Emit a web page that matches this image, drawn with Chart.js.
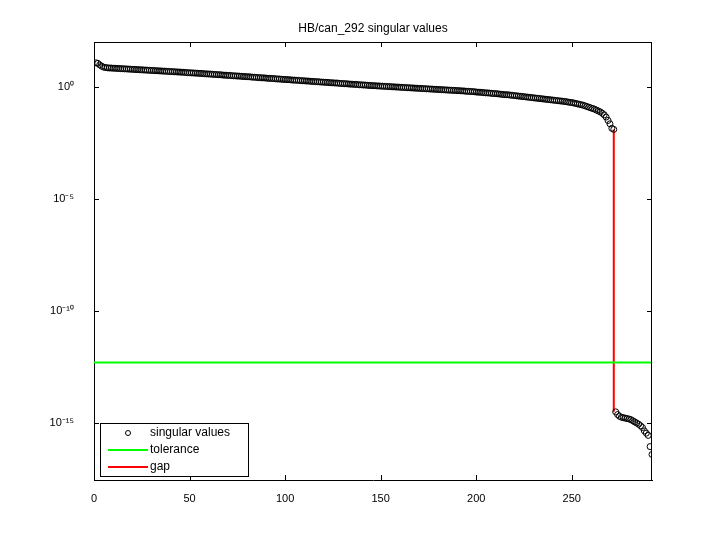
<!DOCTYPE html>
<html>
<head>
<meta charset="utf-8">
<script src="https://cdn.jsdelivr.net/npm/chart.js@4"></script>
<style>
  body { margin: 0; background: #fff; }
  #wrap { width: 720px; height: 540px; }
</style>
</head>
<body>
<div id="wrap"><canvas id="sv-chart" width="720" height="540"></canvas></div>
<script>
// log10 of each singular value (index 1..292)
const svExponents = [
  1.07,1.05,0.98,0.92,0.88,0.86,0.85,0.84,0.84,0.83,
  0.83,0.82,0.82,0.81,0.81,0.80,0.80,0.79,0.79,0.78,
  0.78,0.77,0.77,0.76,0.76,0.75,0.75,0.74,0.74,0.73,
  0.73,0.72,0.72,0.71,0.71,0.70,0.70,0.69,0.69,0.68,
  0.68,0.67,0.67,0.66,0.66,0.65,0.65,0.64,0.63,0.63,
  0.62,0.62,0.61,0.61,0.60,0.60,0.59,0.58,0.58,0.57,
  0.57,0.56,0.55,0.55,0.54,0.54,0.53,0.52,0.52,0.51,
  0.51,0.50,0.49,0.49,0.48,0.48,0.47,0.46,0.46,0.45,
  0.45,0.44,0.43,0.43,0.42,0.41,0.41,0.40,0.40,0.39,
  0.38,0.38,0.37,0.37,0.36,0.35,0.35,0.34,0.33,0.33,
  0.32,0.32,0.31,0.30,0.30,0.29,0.29,0.28,0.27,0.27,
  0.26,0.26,0.25,0.24,0.24,0.23,0.23,0.22,0.21,0.21,
  0.20,0.20,0.19,0.18,0.18,0.17,0.17,0.16,0.15,0.15,
  0.14,0.14,0.13,0.12,0.12,0.11,0.11,0.10,0.09,0.09,
  0.08,0.08,0.07,0.06,0.06,0.05,0.05,0.04,0.04,0.03,
  0.03,0.02,0.02,0.01,0.01,0.00,0.00,-0.01,-0.01,-0.02,
  -0.02,-0.03,-0.03,-0.04,-0.04,-0.05,-0.05,-0.06,-0.06,-0.07,
  -0.07,-0.08,-0.08,-0.09,-0.09,-0.10,-0.10,-0.11,-0.11,-0.12,
  -0.12,-0.13,-0.13,-0.14,-0.14,-0.15,-0.15,-0.16,-0.16,-0.17,
  -0.17,-0.18,-0.18,-0.19,-0.20,-0.20,-0.21,-0.21,-0.22,-0.23,
  -0.24,-0.24,-0.25,-0.26,-0.27,-0.27,-0.28,-0.29,-0.30,-0.30,
  -0.31,-0.32,-0.33,-0.34,-0.35,-0.35,-0.36,-0.37,-0.38,-0.39,
  -0.40,-0.41,-0.42,-0.43,-0.44,-0.45,-0.46,-0.47,-0.48,-0.49,
  -0.50,-0.51,-0.52,-0.53,-0.54,-0.55,-0.56,-0.57,-0.58,-0.59,
  -0.60,-0.61,-0.62,-0.63,-0.64,-0.65,-0.66,-0.68,-0.69,-0.70,
  -0.72,-0.74,-0.76,-0.78,-0.80,-0.82,-0.85,-0.88,-0.91,-0.94,
  -0.97,-1.00,-1.04,-1.08,-1.12,-1.18,-1.25,-1.35,-1.50,-1.65,
  -1.85,-1.90,
  -14.50,-14.62,-14.70,-14.74,-14.76,-14.78,-14.80,-14.82,-14.85,-14.90,
  -14.95,-15.00,-15.05,-15.12,-15.20,-15.35,-15.45,-15.55,-16.05,-16.40
];
const tolerance = 5e-13;
const gapIndex = 272;
const gapTop = Math.pow(10, -1.90);
const gapBottom = Math.pow(10, -14.50);
const yTicks = [1e-15, 1e-10, 1e-5, 1e0];
const yTickLabels = ['10⁻¹⁵', '10⁻¹⁰', '10⁻⁵', '10⁰'];
const xTicks = [0, 50, 100, 150, 200, 250];
const legendItems = ['singular values', 'tolerance', 'gap'];

const svPoints = svExponents.map((e, i) => ({ x: i + 1, y: Math.pow(10, e) }));

const FONT = 'Helvetica, "Liberation Sans", Arial, sans-serif';

const extras = {
  id: 'extras',
  afterDraw(chart) {
    const c = chart.ctx, a = chart.chartArea;
    const xs = chart.scales.x, ys = chart.scales.y;
    c.save();
    // title
    c.fillStyle = '#000';
    c.font = '12px ' + FONT;
    c.textAlign = 'center';
    c.textBaseline = 'middle';
    c.fillText('HB/can_292 singular values', (a.left + a.right) / 2, 29);
    // inward ticks
    c.strokeStyle = '#000';
    c.lineWidth = 1;
    c.beginPath();
    xTicks.forEach(v => {
      const px = Math.round(xs.getPixelForValue(v)) + 0.5;
      c.moveTo(px, a.bottom); c.lineTo(px, a.bottom - 5);
      c.moveTo(px, a.top); c.lineTo(px, a.top + 5);
    });
    yTicks.forEach(v => {
      const py = Math.round(ys.getPixelForValue(v)) + 0.5;
      c.moveTo(a.left, py); c.lineTo(a.left + 5, py);
      c.moveTo(a.right, py); c.lineTo(a.right - 5, py);
    });
    c.stroke();
    // top and right frame
    c.beginPath();
    c.moveTo(a.left, a.top + 0.5); c.lineTo(a.right, a.top + 0.5);
    c.moveTo(a.right - 0.5, a.top); c.lineTo(a.right - 0.5, a.bottom);
    c.stroke();
    // legend
    const lx = 100, ly = 423, lw = 148, lh = 53;
    c.fillStyle = '#fff';
    c.fillRect(lx, ly, lw, lh);
    c.strokeRect(lx + 0.5, ly + 0.5, lw, lh);
    c.textAlign = 'left';
    c.font = '12px ' + FONT;
    legendItems.forEach((t, i) => {
      const y = ly + 10 + i * 17;
      if (i === 0) {
        c.beginPath(); c.arc(lx + 28, y, 2.5, 0, Math.PI * 2); c.stroke();
      } else {
        c.strokeStyle = i === 1 ? '#00ff00' : '#ff0000';
        c.lineWidth = 2;
        c.beginPath(); c.moveTo(lx + 8, y); c.lineTo(lx + 48, y); c.stroke();
        c.strokeStyle = '#000'; c.lineWidth = 1;
      }
      c.fillStyle = '#000';
      c.fillText(t, lx + 50, y);
    });
    c.restore();
  }
};

new Chart(document.getElementById('sv-chart').getContext('2d'), {
  type: 'scatter',
  data: {
    datasets: [
      {
        label: 'singular values',
        data: svPoints,
        pointRadius: 3,
        pointBorderColor: '#000',
        pointBackgroundColor: 'rgba(0,0,0,0)',
        pointBorderWidth: 1,
        showLine: false,
      },
      {
        label: 'tolerance',
        data: [{ x: 0, y: tolerance }, { x: 292, y: tolerance }],
        showLine: true, borderColor: '#00ff00', borderWidth: 2, pointRadius: 0,
      },
      {
        label: 'gap',
        data: [{ x: gapIndex, y: gapTop }, { x: gapIndex, y: gapBottom }],
        showLine: true, borderColor: '#ff0000', borderWidth: 2, pointRadius: 0,
      },
    ],
  },
  options: {
    responsive: false,
    animation: false,
    devicePixelRatio: 1,
    layout: { padding: { top: 42, right: 68, left: 0, bottom: 0 } },
    plugins: { legend: { display: false }, title: { display: false }, tooltip: { enabled: false } },
    scales: {
      x: {
        type: 'linear', min: 0, max: 292,
        afterBuildTicks: s => { s.ticks = xTicks.map(v => ({ value: v })); },
        afterFit: s => { s.height = 60; },
        grid: { display: false },
        border: { color: '#000' },
        ticks: { color: '#000', font: { size: 11, family: FONT }, padding: 4, autoSkip: false, maxRotation: 0 },
      },
      y: {
        type: 'logarithmic', min: Math.pow(10, -17.54), max: 100,
        afterBuildTicks: s => { s.ticks = yTicks.map(v => ({ value: v })); },
        afterFit: s => { s.width = 94; },
        grid: { display: false },
        border: { color: '#000' },
        ticks: {
          color: '#000', font: { size: 11, family: FONT }, padding: 12, autoSkip: false,
          callback: (v, i) => yTickLabels[i],
        },
      },
    },
  },
  plugins: [extras],
});
</script>
</body>
</html>
